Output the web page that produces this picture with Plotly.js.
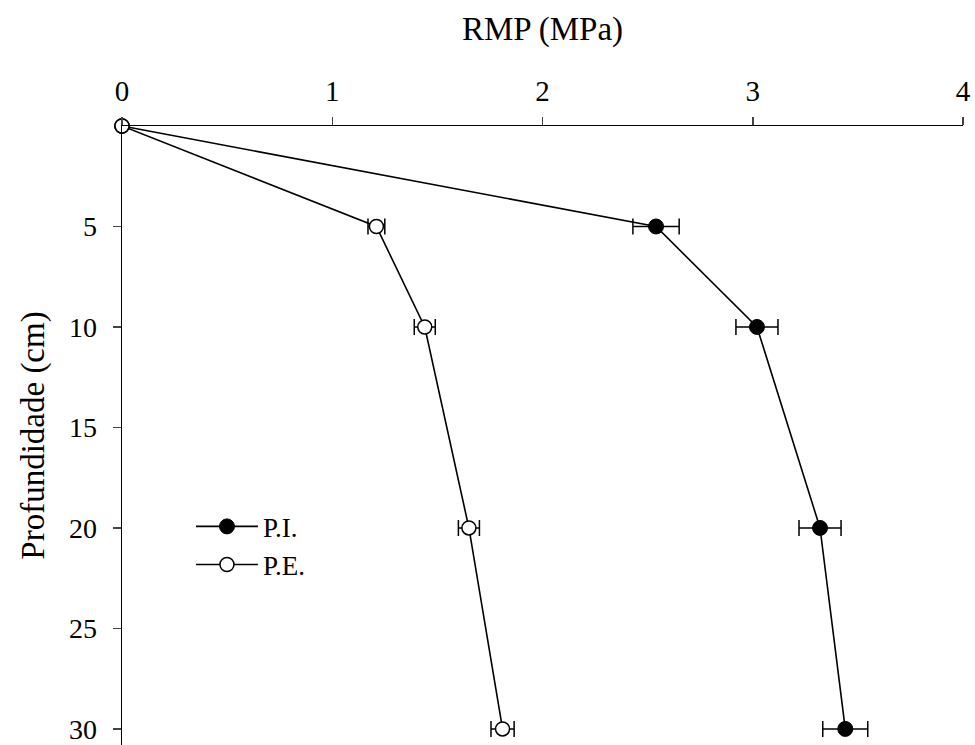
<!DOCTYPE html>
<html>
<head>
<meta charset="utf-8">
<script src="https://cdn.plot.ly/plotly-3.0.1.min.js"></script>
<style>body{margin:0;padding:0;background:#fff}#chart{width:975px;height:745px}</style>
</head>
<body>
<div id="chart"></div>
<script>
const depth = [0, 5, 10, 20, 30];
const piValues = [0, 2.54, 3.02, 3.32, 3.44];
const piErrors = [0, 0.11, 0.10, 0.10, 0.107];
const peValues = [0, 1.21, 1.44, 1.65, 1.81];
const peErrors = [0, 0.04, 0.05, 0.05, 0.055];
const xTicks = [0, 1, 2, 3, 4];
const yTicks = [5, 10, 15, 20, 25, 30];
const seriesNames = ['P.I.', 'P.E.'];

const font = "'Liberation Serif', 'Times New Roman', serif";
const traces = [
  {
    x: piValues, y: depth, name: seriesNames[0], type: 'scatter', mode: 'lines+markers',
    line: {color: '#000', width: 1.6},
    marker: {symbol: 'circle', size: 15, color: '#000', line: {color: '#000', width: 1}},
    error_x: {type: 'data', array: piErrors, visible: true, color: '#000', thickness: 1.5, width: 8},
    cliponaxis: false
  },
  {
    x: peValues, y: depth, name: seriesNames[1], type: 'scatter', mode: 'lines+markers',
    line: {color: '#000', width: 1.6},
    marker: {symbol: 'circle', size: 14, color: '#fff', line: {color: '#000', width: 1.5}},
    error_x: {type: 'data', array: peErrors, visible: true, color: '#000', thickness: 1.5, width: 8},
    cliponaxis: false
  }
];
const layout = {
  width: 975, height: 745,
  margin: {l: 122, r: 12, t: 126, b: 0},
  paper_bgcolor: '#fff', plot_bgcolor: '#fff',
  font: {family: font, color: '#000', size: 28},
  showlegend: true,
  legend: {x: 0.082, y: 0.392, xanchor: 'left', yanchor: 'top', bgcolor: 'rgba(0,0,0,0)',
           font: {family: font, size: 27}, tracegroupgap: 0, itemwidth: 62},
  xaxis: {
    side: 'top', range: [0, 4], tickvals: xTicks, ticks: 'outside', ticklen: 8, tickwidth: 1.5,
    showline: true, linecolor: '#000', linewidth: 1.5, showgrid: false, zeroline: false,
    tickfont: {family: font, size: 29}, ticklabeloverflow: 'allow', ticklabelstandoff: 4,
    title: {text: 'RMP (MPa)', font: {family: font, size: 33}, standoff: 24}
  },
  yaxis: {
    range: [30.8, 0], tickvals: yTicks, ticks: 'outside', ticklen: 8, tickwidth: 1.5,
    showline: true, linecolor: '#000', linewidth: 1.5, showgrid: false, zeroline: false,
    tickfont: {family: font, size: 28}, ticklabeloverflow: 'allow', ticklabelstandoff: 10,
    title: {text: 'Profundidade (cm)', font: {family: font, size: 33}, standoff: 14}
  }
};
Plotly.newPlot('chart', traces, layout, {displayModeBar: false, staticPlot: true});
</script>
</body>
</html>
